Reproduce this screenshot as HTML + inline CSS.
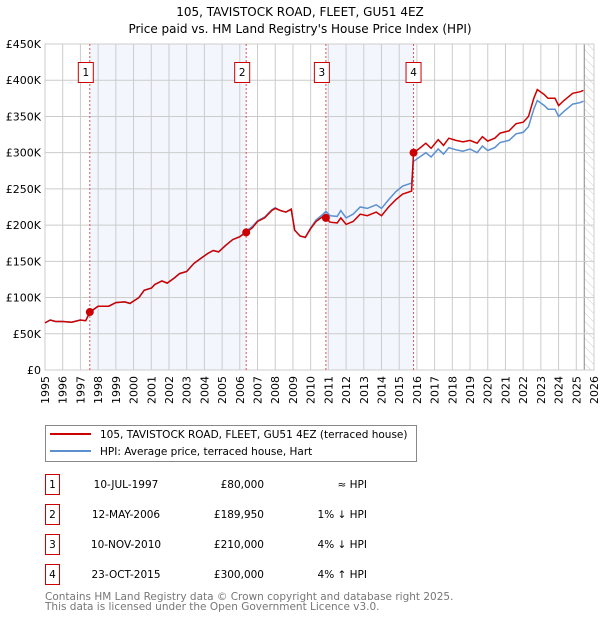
<!DOCTYPE html>
<html><head><meta charset="utf-8">
<style>
body{margin:0;width:600px;height:620px;background:#fff;font-family:"DejaVu Sans","Liberation Sans",sans-serif;overflow:hidden}
svg text{font-family:"DejaVu Sans","Liberation Sans",sans-serif}
</style></head><body>
<svg id="chart" width="600" height="620" viewBox="0 0 600 620" xmlns="http://www.w3.org/2000/svg">
<defs><pattern id="hatch" width="6" height="6" patternUnits="userSpaceOnUse" patternTransform="rotate(-45)"><line x1="0" y1="0" x2="0" y2="6" stroke="#ccc" stroke-width="1"/></pattern></defs>
<text x="300" y="16" text-anchor="middle" font-size="12">105, TAVISTOCK ROAD, FLEET, GU51 4EZ</text>
<text x="300" y="33" text-anchor="middle" font-size="12">Price paid vs. HM Land Registry's House Price Index (HPI)</text>
<g id="plot"></g>
<g>
<rect x="45.5" y="425.5" width="371" height="36" fill="#fff" stroke="#888"/>
<line x1="50" y1="434" x2="91" y2="434" stroke="#cc0000" stroke-width="2"/>
<text x="100" y="438" font-size="10.5">105, TAVISTOCK ROAD, FLEET, GU51 4EZ (terraced house)</text>
<line x1="50" y1="451" x2="91" y2="451" stroke="#5b8fd0" stroke-width="2"/>
<text x="100" y="455" font-size="10.5">HPI: Average price, terraced house, Hart</text>
</g>
<g id="table" font-size="10.5"></g>
<text x="45" y="600" font-size="10.5" fill="#777">Contains HM Land Registry data © Crown copyright and database right 2025.</text>
<text x="45" y="610" font-size="10.5" fill="#777">This data is licensed under the Open Government Licence v3.0.</text>
</svg>
<script>
const dates=[1995.0,1995.3,1995.6,1996,1996.5,1997,1997.3,1997.53,1998,1998.6,1999,1999.5,1999.8,2000.3,2000.6,2001,2001.2,2001.6,2001.9,2002.3,2002.6,2003,2003.4,2003.8,2004.2,2004.5,2004.8,2005.2,2005.6,2006,2006.36,2006.7,2007,2007.4,2007.8,2008,2008.3,2008.6,2008.9,2009.1,2009.4,2009.7,2010,2010.3,2010.7,2010.86,2011.1,2011.5,2011.7,2012,2012.4,2012.8,2013.2,2013.7,2014,2014.4,2014.8,2015.2,2015.7,2015.81,2016.1,2016.5,2016.8,2017.2,2017.5,2017.8,2018.2,2018.6,2019,2019.4,2019.7,2020,2020.4,2020.7,2021.2,2021.6,2022,2022.3,2022.6,2022.8,2023.2,2023.4,2023.8,2024,2024.3,2024.8,2025.2,2025.4];
const priceSeries=[65,69,67,67,66,69,68,80,88,88,93,94,92,100,110,113,118,123,120,127,133,136,147,154,161,165,163,172,180,184,190,196,205,210,220,223,220,218,222,193,185,183,195,205,212,210,204,203,210,201,205,215,213,218,213,225,235,243,247,300,305,313,306,318,310,320,317,315,317,313,322,316,320,327,330,340,342,350,375,387,380,375,375,365,372,382,384,386];
const hpiSeries=[65,69,67,67,66,69,68,79,88,88,93,94,92,100,110,113,118,123,120,127,133,136,147,154,161,165,163,172,180,184,192,198,206,211,221,224,220,218,222,193,185,183,196,207,215,219,213,212,220,210,215,225,223,228,223,235,246,254,258,288,293,300,294,305,298,307,304,302,305,300,309,303,307,314,317,326,328,336,360,372,365,360,360,350,357,367,369,371];
const saleDates=[1997.53,2006.36,2010.86,2015.81];
const salePrices=[80,189.95,210,300];
const saleLabels=["10-JUL-1997","12-MAY-2006","10-NOV-2010","23-OCT-2015"];
const salePriceText=["£80,000","£189,950","£210,000","£300,000"];
const saleHpiText=["≈ HPI","1% ↓ HPI","4% ↓ HPI","4% ↑ HPI"];
const yTicks=[0,50,100,150,200,250,300,350,400,450];
const yTickLabels=["£0","£50K","£100K","£150K","£200K","£250K","£300K","£350K","£400K","£450K"];
const xYears=[1995,1996,1997,1998,1999,2000,2001,2002,2003,2004,2005,2006,2007,2008,2009,2010,2011,2012,2013,2014,2015,2016,2017,2018,2019,2020,2021,2022,2023,2024,2025,2026];

const NS="http://www.w3.org/2000/svg";
const L=45,R=594,T=44,B=370;
const xs=d=>L+(d-1995)/(2026-1995)*(R-L);
const ys=v=>B-v/450*(B-T);
const plot=document.getElementById('plot');
function mk(tag,attrs,parent){const e=document.createElementNS(NS,tag);for(const k in attrs)e.setAttribute(k,attrs[k]);(parent||plot).appendChild(e);return e;}

mk('rect',{x:L,y:T,width:R-L,height:B-T,fill:'#fff'});
for(let i=0;i<saleDates.length;i+=2){
  const b=mk('rect',{x:xs(saleDates[i]),y:T,width:xs(saleDates[i+1])-xs(saleDates[i]),height:B-T,fill:'#f3f6fd'});
  
  
}
const h=mk('rect',{x:xs(2025.45),y:T,width:R-xs(2025.45),height:B-T,fill:'url(#hatch)'});


mk('line',{x1:xs(2025.45),y1:T,x2:xs(2025.45),y2:B,stroke:'#888','stroke-width':1});
yTicks.forEach((v,i)=>{
  const g=mk('line',{x1:L,y1:ys(v),x2:R,y2:ys(v),stroke:'#ccc','stroke-width':1});
  
  
  const t=mk('text',{x:L-4,y:ys(v)+4,'text-anchor':'end','font-size':11});
  t.textContent=yTickLabels[i];
  
  
});
xYears.forEach(y=>{
  const g=mk('line',{x1:xs(y),y1:T,x2:xs(y),y2:B,stroke:'#ccc','stroke-width':1});
  
  
  const t=mk('text',{x:0,y:0,'text-anchor':'end','font-size':11,transform:`translate(${xs(y)+4},${B+6}) rotate(-90)`});
  t.textContent=y;
  
  
});
mk('rect',{x:L,y:T,width:R-L,height:B-T,fill:'none',stroke:'#ccc'});
saleDates.forEach((d,i)=>{
  const l=mk('line',{x1:xs(d),y1:T,x2:xs(d),y2:B,stroke:'#e05050','stroke-width':1,'stroke-dasharray':'2,2'});
  
  
  const bx=xs(d)-7-(i<3?4:0);
  const r=mk('rect',{x:bx-0.5,y:62.5,width:15,height:20,fill:'#fff',stroke:'#cc0000'});
  
  
  const t=mk('text',{x:bx+7,y:76,'text-anchor':'middle','font-size':10.5});
  t.textContent=String(i+1);
  
  
});
const pathOf=s=>s.map((v,i)=>(i?'L':'M')+xs(dates[i]).toFixed(1)+','+ys(v).toFixed(1)).join('');
const hp=mk('path',{d:pathOf(hpiSeries),fill:'none',stroke:'#5b8fd0','stroke-width':1.5});


const pp=mk('path',{d:pathOf(priceSeries),fill:'none',stroke:'#cc0000','stroke-width':1.5});


saleDates.forEach((d,i)=>{
  const c=mk('circle',{cx:xs(d),cy:ys(salePrices[i]),r:4,fill:'#cc0000'});
  
  
});
const tbl=document.getElementById('table');
saleDates.forEach((d,i)=>{
  const cy=485+i*30;
  const r=mk('rect',{x:45.5,y:cy-10.5,width:14,height:20,fill:'#fff',stroke:'#cc0000'},tbl);
  
  
  const n=mk('text',{x:52.5,y:cy+3,'text-anchor':'middle'},tbl);n.textContent=String(i+1);
  
  
  const a=mk('text',{x:126,y:cy+3,'text-anchor':'middle'},tbl);a.textContent=saleLabels[i];
  
  
  const b=mk('text',{x:264,y:cy+3,'text-anchor':'end'},tbl);b.textContent=salePriceText[i];
  
  
  const c=mk('text',{x:367,y:cy+3,'text-anchor':'end'},tbl);c.textContent=saleHpiText[i];
  
  
});
</script>
</body></html>
